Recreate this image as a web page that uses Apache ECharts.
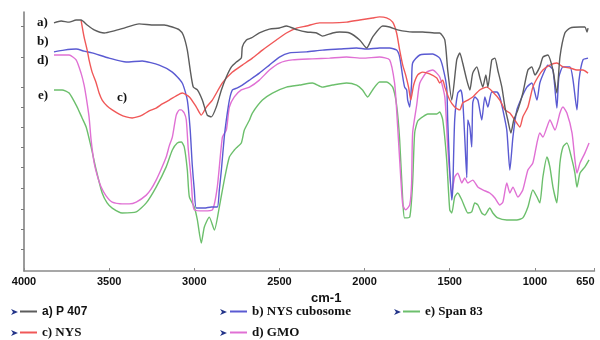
<!DOCTYPE html>
<html>
<head>
<meta charset="utf-8">
<script src="https://cdn.jsdelivr.net/npm/echarts@6/dist/echarts.min.js"></script>
<style>
  html, body { margin: 0; padding: 0; background: #fff; }
  #chart { width: 600px; height: 340px; }
</style>
</head>
<body>
<div id="chart"></div>
<script>
// FTIR spectra: wavenumber (cm-1) against transmittance (%), offset traces
const xTickValues = [4000, 3500, 3000, 2500, 2000, 1500, 1000, 650];
const yTickValues = [8.5, 16.2, 24, 32, 40.2, 47.9, 55.6, 63.3, 71, 82.6, 94.6];

const seriesNames = ['a) P 407', 'b) NYS cubosome', 'c) NYS', 'd) GMO', 'e) Span 83'];
const curveTags = ['a)', 'b)', 'd)', 'e)', 'c)'];

// a) P 407
const p407 = [
  [3824,95.8],[3782,96.5],[3735,96.1],[3694,96.9],[3665,96.9],[3629,95.0],[3588,93.1],[3529,91.9],
  [3471,92.7],[3412,93.8],[3324,95.4],[3235,95.0],[3176,95.0],[3129,94.2],[3088,93.1],[3065,91.1],
  [3041,85.3],[3024,77.6],[3006,71.0],[2982,69.9],[2953,66.0],[2924,60.2],[2900,59.5],[2871,63.3],
  [2841,69.9],[2812,74.9],[2782,78.8],[2753,80.7],[2724,82.2],[2718,86.5],[2694,89.2],[2665,90.0],
  [2618,91.9],[2559,93.4],[2500,93.8],[2459,94.6],[2394,93.1],[2341,92.3],[2282,91.9],[2247,90.7],
  [2188,91.9],[2147,92.3],[2088,91.9],[2029,89.2],[1988,86.1],[1953,90.3],[1894,94.6],[1853,94.2],
  [1806,93.1],[1718,92.3],[1659,92.3],[1576,91.9],[1559,91.9],[1529,89.2],[1512,77.6],[1488,66.0],
  [1459,81.5],[1441,84.2],[1424,80.3],[1400,73.7],[1382,69.9],[1365,76.4],[1341,78.8],[1324,74.9],
  [1306,71.0],[1288,75.7],[1276,71.0],[1253,81.5],[1235,82.2],[1218,77.6],[1194,71.0],[1176,63.3],
  [1159,58.3],[1141,53.3],[1124,58.3],[1100,62.2],[1071,68.7],[1041,77.6],[1018,78.8],[1000,75.7],
  [971,78.8],[953,82.6],[924,83.4],[894,77.6],[871,68.7],[853,82.6],[824,91.9],[794,93.8],
  [735,94.2],[706,94.2],[694,92.3],[688,93.8]
];

// b) NYS cubosome
const nysCubosome = [
  [3824,84.6],[3765,85.3],[3694,85.7],[3647,84.9],[3600,84.2],[3500,82.2],[3400,80.7],[3306,81.1],
  [3206,79.5],[3129,76.8],[3071,72.6],[3041,66.0],[3024,54.4],[3012,40.9],[3000,31.3],[2988,24.3],
  [2941,24.3],[2900,24.7],[2865,24.7],[2853,31.3],[2841,39.0],[2824,51.7],[2812,58.3],[2794,66.0],
  [2776,69.9],[2747,70.7],[2718,71.8],[2676,73.7],[2618,76.4],[2559,79.5],[2500,82.6],[2441,84.2],
  [2341,84.6],[2247,85.3],[2147,85.7],[2047,86.1],[1988,85.7],[1912,86.1],[1853,86.1],[1812,85.3],
  [1794,82.6],[1776,74.9],[1765,71.0],[1753,69.9],[1747,66.0],[1735,63.3],[1724,72.6],[1718,80.3],
  [1676,83.4],[1600,83.8],[1559,82.2],[1541,78.8],[1518,71.0],[1512,58.3],[1500,39.0],[1488,27.4],
  [1482,32.4],[1471,58.3],[1453,68.7],[1435,69.9],[1424,66.0],[1412,51.7],[1400,36.0],[1394,58.3],
  [1382,55.6],[1371,47.9],[1365,64.9],[1353,67.2],[1335,66.0],[1312,58.3],[1294,67.2],[1276,63.3],
  [1253,69.1],[1224,69.1],[1206,67.2],[1188,62.2],[1165,54.4],[1147,39.0],[1129,51.7],[1106,62.2],
  [1076,67.2],[1047,71.0],[1018,72.6],[988,66.0],[971,72.6],[941,77.6],[924,79.5],[894,77.6],
  [871,62.9],[859,74.9],[835,78.8],[794,78.8],[776,73.7],[753,62.2],[741,73.7],[718,81.5],
  [688,82.2]
];

// c) NYS
const nys = [
  [3665,96.9],[3647,90.3],[3629,85.3],[3618,81.5],[3600,76.8],[3576,72.6],[3559,68.7],[3541,66.0],
  [3512,63.7],[3482,62.2],[3441,60.6],[3400,59.5],[3365,59.1],[3335,59.5],[3306,60.2],[3265,61.8],
  [3224,62.9],[3188,64.5],[3147,66.0],[3106,67.6],[3071,68.7],[3029,67.2],[2988,63.3],[2959,60.2],
  [2929,63.3],[2894,66.0],[2835,72.6],[2776,76.8],[2718,79.5],[2659,82.2],[2600,85.3],[2518,89.2],
  [2459,91.9],[2400,93.8],[2341,94.6],[2265,95.8],[2188,95.8],[2106,96.1],[2029,96.9],[1953,97.7],
  [1912,98.1],[1871,97.7],[1835,96.1],[1812,91.9],[1794,85.3],[1776,79.5],[1759,75.7],[1741,70.7],
  [1729,66.0],[1712,71.8],[1688,75.7],[1659,76.8],[1618,76.1],[1576,74.5],[1559,72.6],[1541,73.7],
  [1529,71.0],[1500,66.0],[1471,63.3],[1441,62.2],[1424,64.9],[1394,66.0],[1365,67.2],[1324,69.9],
  [1282,71.0],[1247,69.1],[1206,66.0],[1176,62.2],[1147,61.0],[1118,58.3],[1088,55.6],[1071,59.5],
  [1041,63.3],[1012,71.0],[982,74.9],[953,77.6],[912,79.5],[871,80.3],[835,78.8],[794,78.4],
  [753,77.6],[718,77.6],[688,76.4]
];

// d) GMO
const gmo = [
  [3824,83.4],[3776,83.4],[3735,83.4],[3694,81.5],[3665,76.4],[3647,71.8],[3635,67.2],[3618,59.5],
  [3606,50.6],[3588,41.7],[3571,37.1],[3547,32.4],[3518,29.0],[3482,26.6],[3424,25.9],[3382,25.9],
  [3341,26.6],[3282,29.3],[3253,31.7],[3224,35.1],[3194,39.4],[3165,44.0],[3147,48.3],[3129,51.7],
  [3106,60.2],[3088,62.2],[3076,62.2],[3059,61.0],[3047,58.3],[3035,46.7],[3018,35.1],[3012,28.6],
  [3000,23.6],[2941,23.2],[2894,23.6],[2865,32.4],[2835,51.7],[2812,54.4],[2794,63.3],[2765,67.2],
  [2724,69.9],[2676,71.0],[2618,73.7],[2559,77.6],[2500,80.3],[2424,81.5],[2306,81.9],[2206,82.2],
  [2106,82.6],[2012,82.2],[1912,82.6],[1853,81.5],[1824,72.6],[1812,62.2],[1794,42.9],[1776,25.5],
  [1759,23.6],[1735,25.5],[1724,34.0],[1718,53.3],[1694,64.1],[1676,72.6],[1635,76.8],[1600,77.6],
  [1559,74.9],[1529,67.2],[1512,47.9],[1488,30.1],[1471,36.3],[1453,37.8],[1429,34.0],[1412,35.9],
  [1394,34.0],[1365,35.1],[1335,32.4],[1306,31.3],[1265,30.1],[1235,28.2],[1206,25.5],[1188,26.6],
  [1165,34.0],[1147,30.1],[1129,32.4],[1100,28.6],[1071,31.3],[1041,39.0],[1012,41.7],[988,49.4],
  [971,53.3],[953,51.7],[929,55.6],[912,58.3],[882,54.4],[853,61.0],[835,63.3],[812,61.0],
  [782,53.3],[765,42.9],[753,37.8],[735,41.7],[706,45.6],[682,49.4]
];

// e) Span 83
const span83 = [
  [3824,69.9],[3776,69.9],[3735,68.7],[3688,63.3],[3659,59.1],[3635,55.6],[3606,47.9],[3576,39.0],
  [3541,30.1],[3512,26.3],[3482,24.3],[3424,22.4],[3341,22.8],[3282,26.3],[3224,32.4],[3165,40.2],
  [3129,46.7],[3100,49.4],[3076,49.8],[3059,47.9],[3041,39.0],[3029,28.6],[3000,24.7],[2982,19.7],
  [2959,10.8],[2941,17.0],[2912,20.8],[2882,15.8],[2853,24.7],[2824,35.1],[2794,44.0],[2765,46.7],
  [2747,47.9],[2724,49.4],[2706,54.4],[2676,58.3],[2659,61.0],[2600,66.0],[2541,68.7],[2459,71.0],
  [2382,71.8],[2306,72.6],[2247,71.0],[2188,71.8],[2106,72.6],[2047,71.8],[2012,69.9],[1982,67.2],
  [1953,69.9],[1912,73.0],[1871,73.0],[1835,71.0],[1812,64.1],[1794,50.6],[1776,27.4],[1765,20.5],
  [1735,20.8],[1718,34.0],[1706,53.3],[1688,57.9],[1659,59.5],[1629,60.6],[1576,60.6],[1559,61.4],
  [1541,58.3],[1518,42.9],[1500,23.6],[1488,22.4],[1471,28.6],[1453,30.1],[1429,27.4],[1412,24.7],
  [1394,22.4],[1371,22.8],[1353,26.3],[1335,25.5],[1312,22.4],[1294,21.6],[1265,24.3],[1247,22.4],
  [1218,20.5],[1165,19.7],[1106,19.7],[1071,20.5],[1041,24.7],[1012,31.3],[988,28.6],[971,26.3],
  [953,36.3],[929,44.0],[912,40.2],[894,32.4],[871,26.3],[853,41.7],[835,47.9],[812,49.4],
  [782,42.9],[765,37.8],[753,32.4],[735,37.8],[706,40.2],[682,42.9]
];

const spectra = [p407, nysCubosome, nys, gmo, span83];
const colors = ['#5c5c5c', '#5a5ad2', '#f05858', '#e070d4', '#6cbf6c'];

const serifBold = { fontFamily: 'Liberation Serif', fontWeight: 'bold', fontSize: 13, color: '#111' };
const sansBold = { fontFamily: 'Liberation Sans', fontWeight: 'bold', fontSize: 12, color: '#111' };

const chart = echarts.init(document.getElementById('chart'), null, { renderer: 'canvas' });

function legendBlock(names, left) {
  return {
    orient: 'vertical',
    left: left,
    top: 304,
    padding: 0,
    itemGap: 6,
    itemWidth: 17,
    itemHeight: 2,
    icon: 'rect',
    selectedMode: false,
    textStyle: Object.assign({}, serifBold, { lineHeight: 15 }),
    data: names.map(n => n === seriesNames[0]
      ? { name: n, textStyle: Object.assign({}, sansBold, { lineHeight: 15 }) }
      : { name: n })
  };
}

// small navy pointers in front of each legend entry
function pointer(x, y) {
  return {
    type: 'polygon',
    shape: { points: [[x, y - 3], [x + 7, y], [x, y + 3], [x + 2, y]] },
    style: { fill: '#24358a' }
  };
}

const tagPlaces = [[37, 23], [37, 42], [37, 61], [38, 96], [117, 98]];

const option = {
  backgroundColor: '#fff',
  animation: false,
  color: colors,
  grid: { left: 24, right: 5.5, top: 12, bottom: 69, containLabel: false, outerBoundsMode: 'none' },
  xAxis: {
    type: 'value',
    inverse: true,
    min: 650,
    max: 4000,
    name: 'cm-1',
    nameLocation: 'middle',
    nameGap: 15,
    nameTextStyle: { fontFamily: 'Liberation Sans', fontWeight: 'bold', fontSize: 13, color: '#111', padding: [0, 0, 0, 34] },
    axisLine: { show: true, lineStyle: { color: '#8a8a8a', width: 1.5 } },
    axisTick: { show: true, inside: true, length: 3, customValues: xTickValues, lineStyle: { color: '#8a8a8a' } },
    axisLabel: {
      customValues: xTickValues,
      margin: 5,
      alignMinLabel: 'center',
      alignMaxLabel: 'right',
      formatter: v => String(v),
      fontFamily: 'Liberation Sans', fontWeight: 'bold', fontSize: 11, color: '#111'
    },
    splitLine: { show: false }
  },
  yAxis: {
    type: 'value',
    min: 0,
    max: 100,
    axisLine: { show: true, lineStyle: { color: '#7a7a7a', width: 1.5 } },
    axisTick: { show: true, inside: false, length: 3, customValues: yTickValues, lineStyle: { color: '#7a7a7a' } },
    axisLabel: { show: false },
    splitLine: { show: false }
  },
  legend: [
    legendBlock([seriesNames[0], seriesNames[2]], 20),
    legendBlock([seriesNames[1], seriesNames[3]], 230),
    legendBlock([seriesNames[4]], 403)
  ],
  graphic: [
    pointer(11, 312), pointer(11, 333), pointer(220, 312), pointer(220, 333), pointer(394, 312)
  ].concat(curveTags.map((t, i) => ({
    type: 'text',
    x: tagPlaces[i][0],
    y: tagPlaces[i][1],
    style: { text: t, verticalAlign: 'middle', fill: '#111', font: 'bold 13px "Liberation Serif"' }
  }))),
  series: spectra.map((d, i) => ({
    name: seriesNames[i],
    type: 'line',
    data: d,
    showSymbol: false,
    smooth: 0.2,
    lineStyle: { width: 1.4, color: colors[i] },
    itemStyle: { color: colors[i] },
    z: [5, 3, 4, 2, 1][i]
  }))
};

chart.setOption(option);
</script>
</body>
</html>
